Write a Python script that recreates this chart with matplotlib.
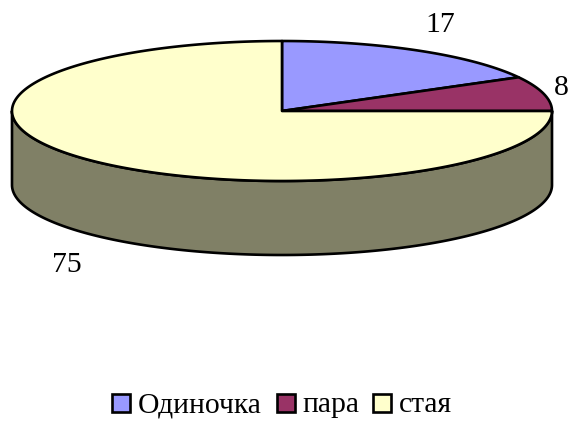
import numpy as np
import matplotlib
matplotlib.use("Agg")
import matplotlib.pyplot as plt
from matplotlib.patches import Rectangle

categories = ["Одиночка", "пара", "стая"]
values = [17, 8, 75]
value_labels = ["17", "8", "75"]
colors = ["#9999FF", "#993366", "#FFFFCC"]
side_color = "#808066"

CX, CY, RX, RY, DEPTH = 282, 111, 270, 70, 74
LW = 1.9
FS = 21.3

plt.rcParams["font.family"] = ["Liberation Serif", "DejaVu Serif"]
fig = plt.figure(figsize=(5.69, 4.21), dpi=100)
ax = fig.add_axes([0, 0, 1, 1])
ax.set_xlim(0, 569)
ax.set_ylim(421, 0)
ax.axis("off")


def rim(a0, a1, dy=0):
    t = np.radians(np.linspace(a0, a1, 240))
    return CX + RX * np.cos(t), CY + dy - RY * np.sin(t)


# side wall (lower half of the rim)
x_top, y_top = rim(180, 360)
x_bot, y_bot = rim(360, 180, DEPTH)
ax.fill(np.r_[x_top, x_bot], np.r_[y_top, y_bot], facecolor=side_color,
        edgecolor="black", lw=LW, joinstyle="round")

# top slices, clockwise from 12 o'clock
total = sum(values)
start = 90.0
for v, c in zip(values, colors):
    end = start - 360.0 * v / total
    x, y = rim(start, end)
    ax.fill(np.r_[CX, x], np.r_[CY, y], facecolor=c, edgecolor="black",
            lw=LW, joinstyle="round")
    start = end

# value labels
label_pos = [(440, 32), (561, 95), (66.5, 272)]
for s, (x, y) in zip(value_labels, label_pos):
    ax.text(x, y, s, fontsize=FS, ha="center", va="baseline", color="black")

# legend
legend_items = [(112, 138), (277, 302), (373, 399)]
for (bx, tx), c, name in zip(legend_items, colors, categories):
    ax.add_patch(Rectangle((bx, 394), 18, 17.5, facecolor=c, edgecolor="black", lw=LW))
    ax.text(tx, 412.5, name, fontsize=FS, ha="left", va="baseline", color="black")

fig.savefig("out.png", dpi=100, facecolor="white")
